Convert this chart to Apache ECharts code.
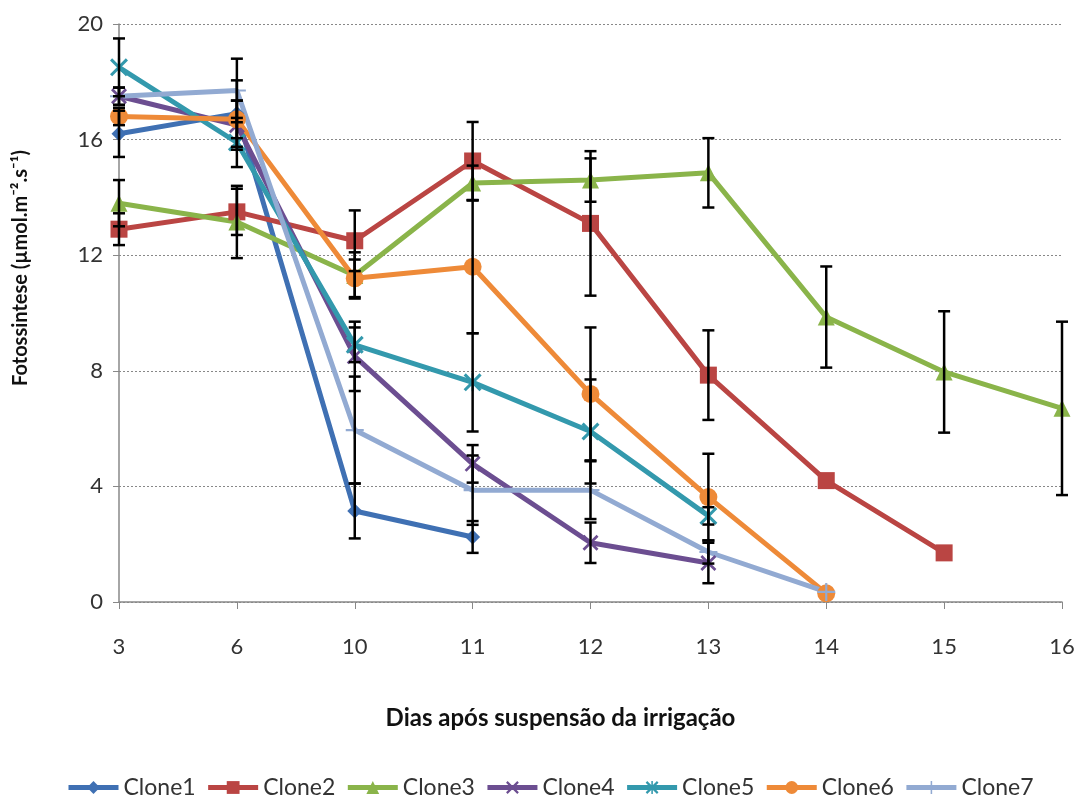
<!DOCTYPE html>
<html>
<head>
<meta charset="utf-8">
<script src="https://cdn.jsdelivr.net/npm/echarts@6/dist/echarts.min.js"></script>
<style>
  html, body { margin: 0; padding: 0; background: #fff; }
  #chart { width: 1080px; height: 801px; }
</style>
</head>
<body>
<div id="chart"></div>
<script>
// dias após suspensão
const days = ['3', '6', '10', '11', '12', '13', '14', '15', '16'];
const yTicks = [0, 4, 8, 12, 16, 20];

// médias por clone (null = sem medida)
const clone1 = [16.2, 16.9, 3.15, 2.25, null, null, null, null, null];
const clone2 = [12.9, 13.5, 12.5, 15.26, 13.1, 7.85, 4.2, 1.7, null];
const clone3 = [13.8, 13.15, 11.3, 14.5, 14.6, 14.85, 9.86, 7.96, 6.7];
const clone4 = [17.5, 16.5, 8.5, 4.78, 2.05, 1.35, null, null, null];
const clone5 = [18.5, 15.9, 8.9, 7.6, 5.9, 2.98, null, null, null];
const clone6 = [16.8, 16.7, 11.2, 11.6, 7.2, 3.63, 0.3, null, null];
const clone7 = [17.5, 17.7, 5.95, 3.87, 3.87, 1.73, 0.35, null, null];

// desvios (barras de erro)
const err1 = [0.8, 1.15, 0.95, 0.55, null, null, null, null, null];
const err2 = [0.55, 0.8, 1.05, 1.35, 2.5, 1.55, null, null, null];
const err3 = [0.8, 1.25, 0.8, 0.6, 0.75, 1.2, 1.75, 2.1, 3.0];
const err4 = [0.3, 0.85, 1.2, 0.65, 0.7, 0.7, null, null, null];
const err5 = [1.0, 0.85, 0.6, 1.7, 1.8, 0.3, null, null, null];
const err6 = [0.3, 0.65, 0.65, 2.3, 2.3, 1.5, null, null, null];
const err7 = [0.3, 1.1, 1.85, 1.2, 1.0, 0.4, null, null, null];

const names = ['Clone1', 'Clone2', 'Clone3', 'Clone4', 'Clone5', 'Clone6', 'Clone7'];
const values = [clone1, clone2, clone3, clone4, clone5, clone6, clone7];
const errors = [err1, err2, err3, err4, err5, err6, err7];
const colors = ['#3F70B3', '#BA4543', '#8AB44A', '#6C4E91', '#3399AD', '#EE8A38', '#92AAD2'];

const xMark = 'path://M0,1.2 L1.2,0 L10,8.8 L8.8,10 Z M8.8,0 L10,1.2 L1.2,10 L0,8.8 Z';
const starMark = 'path://M0,1.2 L1.2,0 L10,8.8 L8.8,10 Z M8.8,0 L10,1.2 L1.2,10 L0,8.8 Z M4.4,0 H5.6 V10 H4.4 Z';
const plusMark = 'path://M4.4,0 H5.6 V10 H4.4 Z M0,4.4 H10 V5.6 H0 Z';
const symbols = ['diamond', 'rect', 'triangle', xMark, starMark, 'circle', plusMark];
const sizes = [15, 17, 17, 16, 18, 18, 18];

const errData = [];
values.forEach((vals, s) => {
    vals.forEach((v, i) => {
        const e = errors[s][i];
        if (v != null && e != null) {
            errData.push([i, v - e, v + e]);
        }
    });
});

const chart = echarts.init(document.getElementById('chart'));

const series = names.map((name, s) => ({
    name: name,
    type: 'line',
    data: values[s],
    symbol: symbols[s],
    symbolSize: sizes[s],
    showAllSymbol: true,
    lineStyle: { width: 5, color: colors[s] },
    itemStyle: { color: colors[s] },
    z: 3
}));

series.push({
    type: 'custom',
    name: 'erro',
    data: errData,
    z: 5,
    renderItem(params, api) {
        const top = api.coord([api.value(0), api.value(2)]);
        const bot = api.coord([api.value(0), api.value(1)]);
        const half = 6;
        const style = { stroke: '#000', lineWidth: 2.5 };
        return {
            type: 'group',
            children: [
                { type: 'line', shape: { x1: top[0], y1: top[1], x2: bot[0], y2: bot[1] }, style },
                { type: 'line', shape: { x1: top[0] - half, y1: top[1], x2: top[0] + half, y2: top[1] }, style },
                { type: 'line', shape: { x1: bot[0] - half, y1: bot[1], x2: bot[0] + half, y2: bot[1] }, style }
            ]
        };
    }
});

chart.setOption({
    animation: false,
    textStyle: { fontFamily: 'Lato, "Open Sans", sans-serif' },
    grid: { left: 119, right: 18, top: 24, bottom: 199, containLabel: false },
    legend: {
        data: names,
        bottom: 0,
        left: 64,
        right: 0,
        padding: 2,
        itemWidth: 50,
        itemHeight: 16,
        itemGap: 10,
        lineStyle: { width: 5 },
        textStyle: { fontSize: 23, color: '#333', fontFamily: 'Lato, sans-serif' }
    },
    xAxis: {
        type: 'category',
        data: days,
        boundaryGap: false,
        name: 'Dias após suspensão da irrigação',
        nameLocation: 'middle',
        nameGap: 104,
        nameTextStyle: { fontSize: 24, fontWeight: 'bold', color: '#111', padding: [0, 60, 0, 0] },
        axisLine: { lineStyle: { color: '#888', width: 1.5 } },
        axisTick: { show: true, alignWithLabel: true, length: 7, lineStyle: { color: '#888' } },
        axisLabel: { fontSize: 22, color: '#333', margin: 34 },
        splitLine: { show: false }
    },
    yAxis: {
        type: 'value',
        min: yTicks[0],
        max: yTicks[yTicks.length - 1],
        interval: 4,
        name: 'Fotossintese (µmol.m⁻².s⁻¹)',
        nameLocation: 'middle',
        nameGap: 88,
        nameTextStyle: { fontSize: 20, fontWeight: 'bold', color: '#111', padding: [0, 0, 0, 90] },
        axisLine: { show: true, lineStyle: { color: '#888', width: 1.5 } },
        axisTick: { show: true, length: 6, lineStyle: { color: '#888' } },
        axisLabel: { fontSize: 22, color: '#333', margin: 16 },
        splitLine: { show: true, lineStyle: { color: '#888', type: [2, 2], width: 1 } }
    },
    series: series
});
</script>
</body>
</html>
